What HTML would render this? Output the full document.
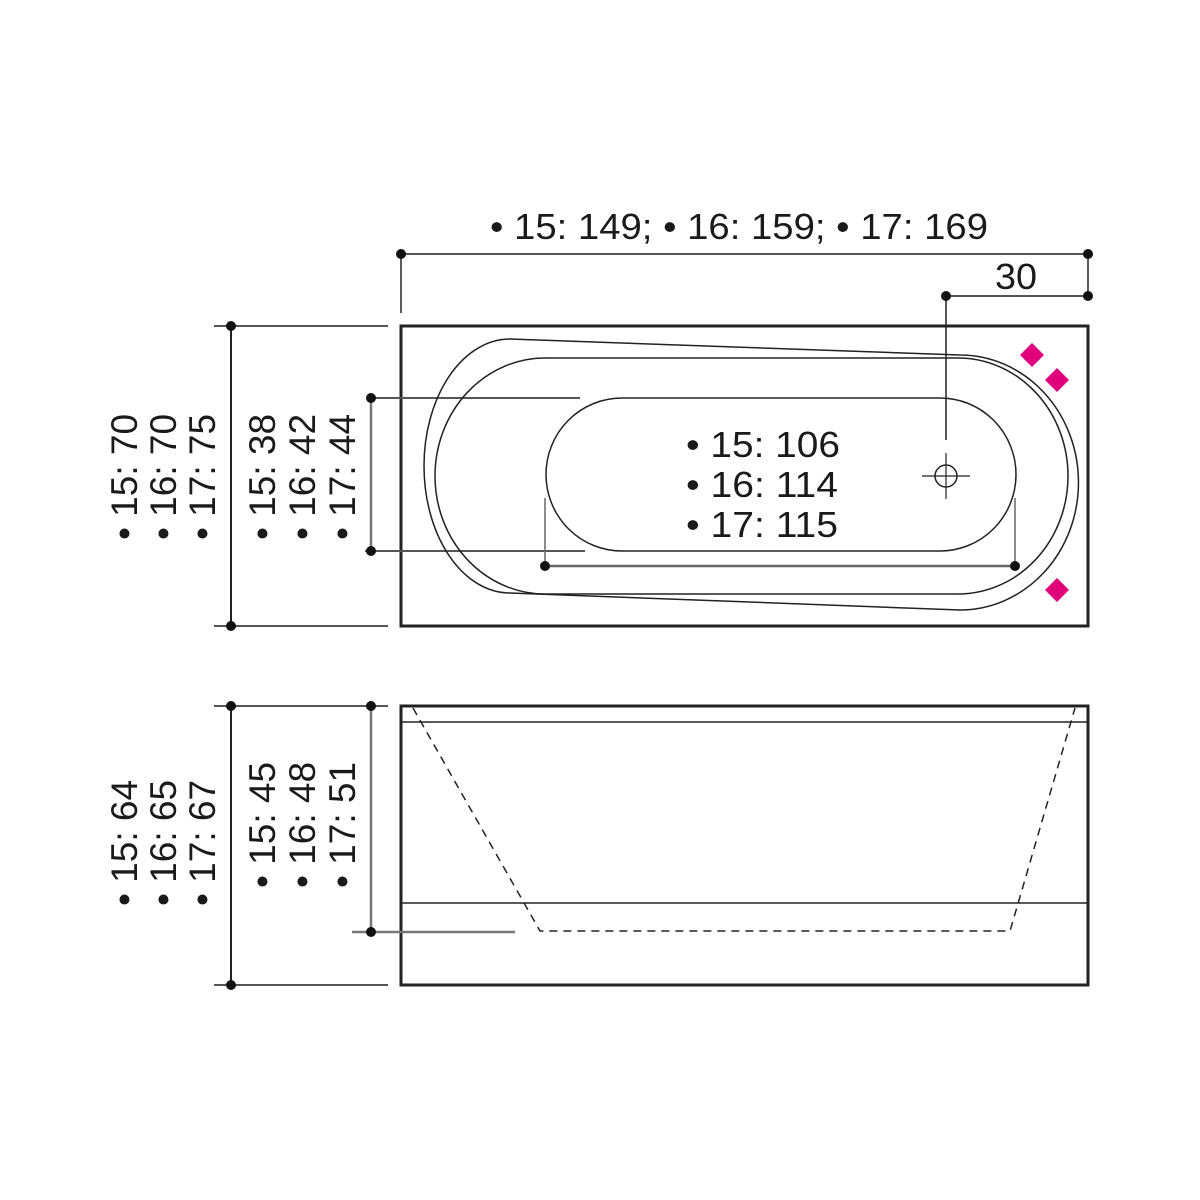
<!DOCTYPE html>
<html><head><meta charset="utf-8"><style>html,body{margin:0;padding:0;background:#fff}svg{display:block}</style></head>
<body>
<svg width="1200" height="1200" viewBox="0 0 1200 1200" xmlns="http://www.w3.org/2000/svg" font-family="Liberation Sans, Arial, sans-serif" fill="#1a1a1a">
<rect width="1200" height="1200" fill="#fff"/>
<g stroke="#222" fill="none">
<line x1="401" y1="254" x2="1088" y2="254" stroke="#555" stroke-width="2"/>
<line x1="401" y1="254" x2="401" y2="313" stroke-width="1.5"/>
<line x1="1088" y1="254" x2="1088" y2="296" stroke-width="1.5"/>
<line x1="946" y1="296" x2="1088" y2="296" stroke="#555" stroke-width="2"/>
<line x1="946" y1="296" x2="946" y2="440" stroke-width="1.5"/>
<line x1="946" y1="453" x2="946" y2="499" stroke-width="1.2"/>
<line x1="922" y1="476" x2="970" y2="476" stroke-width="1.2"/>
<circle cx="946" cy="476" r="11" stroke-width="1.5"/>
<rect x="401" y="326" width="687" height="300" stroke-width="3"/>
<line x1="214" y1="326" x2="388" y2="326" stroke="#555" stroke-width="2"/>
<line x1="214" y1="626" x2="388" y2="626" stroke="#555" stroke-width="2"/>
<line x1="231" y1="326" x2="231" y2="626" stroke-width="2"/>
<line x1="371" y1="398" x2="580" y2="398" stroke="#555" stroke-width="2"/>
<line x1="365" y1="551" x2="585" y2="551" stroke="#555" stroke-width="2"/>
<line x1="371" y1="398" x2="371" y2="551" stroke="#777" stroke-width="2.5"/>
<path d="M510,339 L960,355 A118,127 0 0 1 960,610 L510,593 A86,127 0 0 1 510,339 Z" stroke-width="1.5"/>
<path d="M545,358 L958,358 A110,118 0 0 1 958,594 L545,594 A110,118 0 0 1 545,358 Z" stroke-width="1.5"/>
<path d="M622,398 L940,398 A76,76.5 0 0 1 940,551 L622,551 A76,76.5 0 0 1 622,398 Z" stroke-width="1.5"/>
<line x1="545" y1="566" x2="1015" y2="566" stroke="#666" stroke-width="2.5"/>
<line x1="545" y1="498" x2="545" y2="566" stroke="#666" stroke-width="1.5"/>
<line x1="1015" y1="498" x2="1015" y2="566" stroke="#666" stroke-width="1.5"/>
<rect x="401" y="706" width="687" height="279" stroke-width="3"/>
<line x1="401" y1="722" x2="1088" y2="722" stroke-width="1.5"/>
<line x1="401" y1="903" x2="1088" y2="903" stroke-width="1.5"/>
<path d="M413,708 L540,931 L1010,931 L1075,708" stroke-width="1.5" stroke-dasharray="8,6"/>
<line x1="214" y1="706" x2="388" y2="706" stroke="#555" stroke-width="2"/>
<line x1="214" y1="985" x2="388" y2="985" stroke="#555" stroke-width="2"/>
<line x1="231" y1="706" x2="231" y2="985" stroke-width="2"/>
<line x1="371" y1="706" x2="371" y2="932" stroke="#777" stroke-width="2.5"/>
<line x1="352" y1="932" x2="515" y2="932" stroke="#777" stroke-width="2.5"/>
</g>
<g fill="#111">
<circle cx="401" cy="254" r="5"/><circle cx="1088" cy="254" r="5"/>
<circle cx="946" cy="296" r="5"/><circle cx="1088" cy="296" r="5"/>
<circle cx="231" cy="326" r="5"/><circle cx="231" cy="626" r="5"/>
<circle cx="371" cy="398" r="5"/><circle cx="371" cy="551" r="5"/>
<circle cx="545" cy="566" r="5"/><circle cx="1015" cy="566" r="5"/>
<circle cx="231" cy="706" r="5"/><circle cx="231" cy="985" r="5"/>
<circle cx="371" cy="706" r="5"/><circle cx="371" cy="932" r="5"/>
</g>
<g fill="#e0007a">
<polygon points="1032,343 1044,355 1032,367 1020,355"/>
<polygon points="1057,368 1069,380 1057,392 1045,380"/>
<polygon points="1057,578 1069,590 1057,602 1045,590"/>
</g>
<g font-size="36">
<text x="490" y="239" textLength="498" lengthAdjust="spacingAndGlyphs">• 15: 149; • 16: 159; • 17: 169</text>
<text x="995" y="289" textLength="42" lengthAdjust="spacingAndGlyphs">30</text>
<text x="686" y="457" textLength="154" lengthAdjust="spacingAndGlyphs">• 15: 106</text>
<text x="686" y="497" textLength="152" lengthAdjust="spacingAndGlyphs">• 16: 114</text>
<text x="686" y="537" textLength="152" lengthAdjust="spacingAndGlyphs">• 17: 115</text>
</g>
<g font-size="37" text-anchor="middle">
<text transform="translate(137,477) rotate(-90)">• 15: 70</text>
<text transform="translate(176,477) rotate(-90)">• 16: 70</text>
<text transform="translate(215,477) rotate(-90)">• 17: 75</text>
<text transform="translate(275,477) rotate(-90)">• 15: 38</text>
<text transform="translate(315,477) rotate(-90)">• 16: 42</text>
<text transform="translate(355,477) rotate(-90)">• 17: 44</text>
<text transform="translate(137,843) rotate(-90)">• 15: 64</text>
<text transform="translate(176,843) rotate(-90)">• 16: 65</text>
<text transform="translate(215,843) rotate(-90)">• 17: 67</text>
<text transform="translate(275,825) rotate(-90)">• 15: 45</text>
<text transform="translate(315,825) rotate(-90)">• 16: 48</text>
<text transform="translate(355,825) rotate(-90)">• 17: 51</text>
</g>
</svg>
</body></html>
